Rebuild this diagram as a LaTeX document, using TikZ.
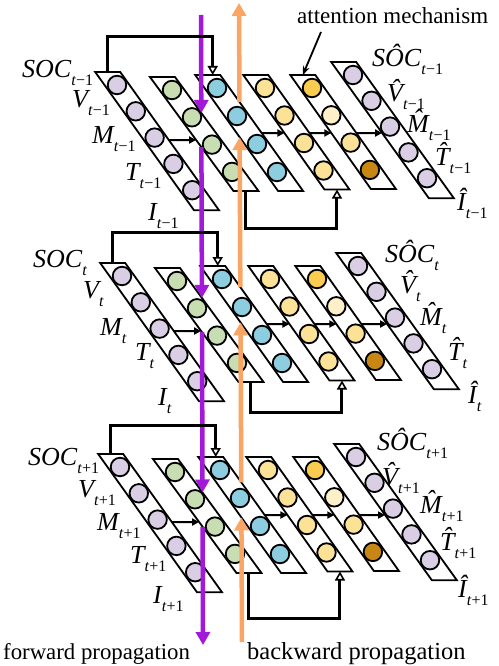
\documentclass[tikz,border=0pt]{standalone}
\usepackage{fontspec}
\setmainfont{Liberation Serif}
\usetikzlibrary{arrows.meta,calc}
\definecolor{lav}{RGB}{217,206,228}
\definecolor{grn}{RGB}{200,222,178}
\definecolor{cyn}{RGB}{140,206,224}
\definecolor{yel}{RGB}{252,226,150}
\definecolor{gld}{RGB}{250,205,80}
\definecolor{crm}{RGB}{254,240,200}
\definecolor{brn}{RGB}{200,135,20}
\definecolor{purp}{RGB}{163,25,217}
\definecolor{orng}{RGB}{250,165,100}
\newcommand\lbl[2]{{\fontsize{26}{26}\selectfont\itshape #1}\raisebox{-8pt}{\fontsize{16}{16}\selectfont #2}}
\newcommand\sam{\textit{t}−1}
\newcommand\sat{\textit{t}}
\newcommand\sap{\textit{t}+1}
\newcommand\drawstrip[8]{%
  \pgfmathsetmacro\sxa{#2}%
  \pgfmathsetmacro\sya{#3}%
  \pgfmathsetmacro\stx{\sxa-13*#5/#6}%
  \pgfmathsetmacro\sty{\sya-13}%
  \pgfmathsetmacro\sby{\sya+(#4-1)*#6+#8}%
  \pgfmathsetmacro\sbx{\sxa+(#4-1)*#5+#8*#5/#6}%
  \coordinate (#1TL) at (\stx-12.5,\sty);
  \coordinate (#1TR) at (\stx+12.5,\sty);
  \coordinate (#1BR) at (\sbx+12.5,\sby);
  \coordinate (#1BL) at (\sbx-12.5,\sby);
  \coordinate (#1T) at (\stx,\sty);
  \coordinate (#1B) at (\sbx,\sby);
  \draw[stripbox] (#1TL) -- (#1TR) -- (#1BR) -- (#1BL) -- cycle;
  \foreach \c [count=\i from 0] in {#7} {\node[ball,fill=\c] (#1C\i) at (\sxa+\i*#5,\sya+\i*#6) {};}%
}
\newcommand\block[3]{%
  \drawstrip{#1in}{117+#2}{85+#3}{5}{18.8}{26.3}{lav,lav,lav,lav,lav}{20}%
  \drawstrip{#1gr}{172+#2}{90+#3}{4}{20}{27.3}{grn,grn,grn,grn}{19}%
  \drawstrip{#1cy}{217+#2}{88+#3}{4}{20}{28}{cyn,cyn,cyn,cyn}{19}%
  \drawstrip{#1ya}{265+#2}{88+#3}{4}{19.5}{27.5}{yel,yel,yel,yel}{19}%
  \drawstrip{#1yb}{312+#2}{88+#3}{4}{19.3}{27.3}{gld,crm,yel,brn}{19}%
  \drawstrip{#1out}{353+#2}{75+#3}{5}{18.5}{25.8}{lav,lav,lav,lav,lav}{20}%
}
\newcommand\links[5]{%
  \coordinate (#1hA) at (0,#2); \coordinate (#1hB) at (498,#2);
  \coordinate (#1hC) at (0,#3); \coordinate (#1hD) at (498,#3);
  \draw[sarrow] (intersection of #1hA--#1hB and #1inTR--#1inBR) -- (intersection of #1hA--#1hB and #1grTL--#1grBL);
  \draw[sarrow] (intersection of #1hC--#1hD and #1cyTR--#1cyBR) -- (intersection of #1hC--#1hD and #1yaTL--#1yaBL);
  \draw[sarrow] (intersection of #1hC--#1hD and #1yaTR--#1yaBR) -- (intersection of #1hC--#1hD and #1ybTL--#1ybBL);
  \draw[sarrow] (intersection of #1hC--#1hD and #1ybTR--#1ybBR) -- (intersection of #1hC--#1hD and #1outTL--#1outBL);
  \coordinate (#1bt) at (0,#4); \coordinate (#1bb) at (0,#5);
  \coordinate (#1cyTT) at ($(#1cyT)+(5,0)$);
  \draw[brk] (#1inT) -- (#1inT |- #1bt) -- (#1cyTT |- #1bt) -- (#1cyTT);
  \draw[brk] (#1grB) -- (#1grB |- #1bb) -- (#1yaB |- #1bb) -- (#1yaB);
}
\begin{document}
\begin{tikzpicture}[x=1pt,y=-1pt,
  stripbox/.style={draw=black,fill=white,line width=1.8pt,line join=miter},
  ball/.style={circle,draw=black,line width=1.8pt,inner sep=0pt,minimum size=18.5pt},
  sarrow/.style={line width=2pt,-{Triangle[length=7pt,width=7pt]}},
  brk/.style={line width=3pt,-{Triangle[open,length=9pt,width=10pt,line width=1.6pt]}},
  purpl/.style={draw=purp,line width=4.5pt,-{Triangle[length=13pt,width=14pt]}},
  orngl/.style={draw=orng,line width=4.5pt,-{Triangle[length=13pt,width=14pt]}},
  lab/.style={inner sep=0pt,anchor=base west},
  txt/.style={inner sep=0pt,anchor=base west}]
\useasboundingbox (0,0) rectangle (498,666);
\block{a}{0}{0}
\block{b}{5}{191}
\block{c}{3}{382}
% propagation lines
\coordinate (ptop) at (201,15);
\coordinate (pbot) at (203,645);
\coordinate (otop) at (239,3);
\coordinate (obot) at (242,642);
\foreach \b in {a,b,c}{
  \coordinate (\b pin) at (intersection of ptop--pbot and \b grTR--\b grBR);
  \coordinate (\b pout) at (intersection of ptop--pbot and \b grTL--\b grBL);
  \coordinate (\b oin) at (intersection of obot--otop and \b cyTL--\b cyBL);
  \coordinate (\b oout) at (intersection of obot--otop and \b cyTR--\b cyBR);
}
\draw[purpl] (ptop) -- (apin);
\draw[purpl] (apout) -- (bpin);
\draw[purpl] (bpout) -- (cpin);
\draw[purpl] (cpout) -- (pbot);
\draw[orngl] (obot) -- (coin);
\draw[orngl] (coout) -- (boin);
\draw[orngl] (boout) -- (aoin);
\draw[orngl] (aoout) -- (otop);
\links{a}{140}{133}{37}{228}
\links{b}{331}{324}{232}{412}
\links{c}{522}{515}{425}{618}
% left labels
\node[lab] (aL1) at (22,78) {\lbl{SOC}{\sam}};
\node[lab] (aL2) at (72,108) {\lbl{V}{\sam}};
\node[lab] (aL3) at (92,143) {\lbl{M}{\sam}};
\node[lab] (aL4) at (125,180) {\lbl{T}{\sam}};
\node[lab] (aL5) at (148,220) {\lbl{I}{\sam}};
\node[lab] (bL1) at (33,267) {\lbl{SOC}{\sat}};
\node[lab] (bL2) at (83,298) {\lbl{V}{\sat}};
\node[lab] (bL3) at (100,335) {\lbl{M}{\sat}};
\node[lab] (bL4) at (135,360) {\lbl{T}{\sat}};
\node[lab] (bL5) at (158,405) {\lbl{I}{\sat}};
\node[lab] (cL1) at (28,465) {\lbl{SOC}{\sap}};
\node[lab] (cL2) at (78,497) {\lbl{V}{\sap}};
\node[lab] (cL3) at (97,530) {\lbl{M}{\sap}};
\node[lab] (cL4) at (130,563) {\lbl{T}{\sap}};
\node[lab] (cL5) at (153,603) {\lbl{I}{\sap}};
% right labels
\node[lab] (aR1) at (372,67) {\lbl{S\^{O}C}{\sam}};
\node[lab] (aR2) at (387,102) {\lbl{\^{V}}{\sam}};
\node[lab] (aR3) at (407,132) {\lbl{\^{M}}{\sam}};
\node[lab] (aR4) at (435,165) {\lbl{\^{T}}{\sam}};
\node[lab] (aR5) at (457,210) {\lbl{\^{I}}{\sam}};
\node[lab] (bR1) at (385,262) {\lbl{S\^{O}C}{\sat}};
\node[lab] (bR2) at (400,293) {\lbl{\^{V}}{\sat}};
\node[lab] (bR3) at (420,325) {\lbl{\^{M}}{\sat}};
\node[lab] (bR4) at (448,360) {\lbl{\^{T}}{\sat}};
\node[lab] (bR5) at (468,403) {\lbl{\^{I}}{\sat}};
\node[lab] (cR1) at (377,450) {\lbl{S\^{O}C}{\sap}};
\node[lab] (cR2) at (382,485) {\lbl{\^{V}}{\sap}};
\node[lab] (cR3) at (420,513) {\lbl{\^{M}}{\sap}};
\node[lab] (cR4) at (440,550) {\lbl{\^{T}}{\sap}};
\node[lab] (cR5) at (458,597) {\lbl{\^{I}}{\sap}};
% texts
\node[txt] (att) at (297,24) {\fontsize{23}{23}\selectfont attention mechanism};
\coordinate (attS) at (321,32);
\draw[line width=1.8pt,-{Stealth[length=9pt,width=7pt]}] (attS) -- (aybT);
\node[txt] (fwd) at (3,659) {\fontsize{22.8}{23}\selectfont forward propagation};
\node[txt] (bwd) at (247,659) {\fontsize{24.5}{25}\selectfont backward propagation};
\end{tikzpicture}
\end{document}
